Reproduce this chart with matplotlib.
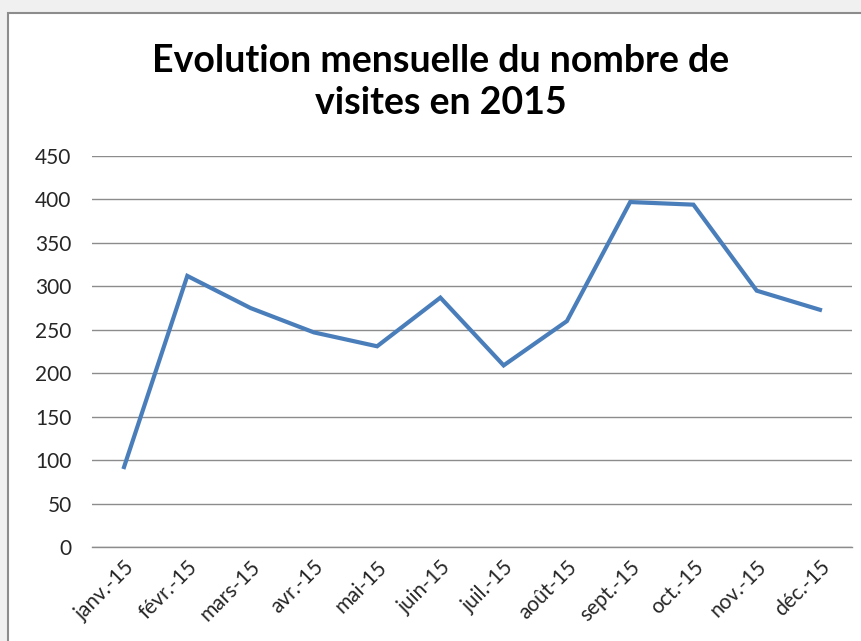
import matplotlib
matplotlib.use("Agg")
import matplotlib.pyplot as plt
from matplotlib.patches import Rectangle

months = ["janv.-15", "févr.-15", "mars-15", "avr.-15", "mai-15", "juin-15",
          "juil.-15", "août-15", "sept.-15", "oct.-15", "nov.-15", "déc.-15"]
visits = [92, 312, 275, 247, 231, 287, 209, 260, 397, 394, 295, 273]
yticks = [0, 50, 100, 150, 200, 250, 300, 350, 400, 450]
title = "Evolution mensuelle du nombre de\nvisites en 2015"

plt.rcParams['font.family'] = ['Lato', 'DejaVu Sans']

W, H = 862, 641
fig = plt.figure(figsize=(W / 100, H / 100), dpi=100, facecolor="#F0F0F0")
# white chart area with gray border
fig.patches.append(Rectangle((8 / W, -0.1), 1.2, 1.1 - 13 / H, transform=fig.transFigure,
                             facecolor="white", edgecolor="#8C8C8C", linewidth=1.5, zorder=-5))

left, right = 92.4 / W, 851.6 / W
bottom, top = 1 - 547 / H, 1 - 156 / H
ax = fig.add_axes([left, bottom, right - left, top - bottom], zorder=2)
ax.set_facecolor("none")

x = list(range(len(months)))
ax.plot(x, visits, color="#4A7EBB", linewidth=3.0, solid_joinstyle="miter", zorder=3)

ax.set_xlim(-0.5, len(months) - 0.5)
ax.set_ylim(0, 450)
ax.set_yticks(yticks)
ax.set_yticklabels([str(v) for v in yticks], fontsize=15, color="#262626")
ax.set_xticks(x)
ax.set_xticklabels(months, rotation=45, ha="right", va="top", rotation_mode="anchor",
                   fontsize=15, color="#262626")
ax.tick_params(axis="both", length=0)
ax.tick_params(axis="y", pad=15)
ax.tick_params(axis="x", pad=7)
ax.grid(axis="y", color="#8C8C8C", linewidth=1.0)
ax.set_axisbelow(True)
for s in ["left", "right", "top"]:
    ax.spines[s].set_visible(False)
ax.spines["bottom"].set_color("#8C8C8C")
ax.spines["bottom"].set_linewidth(1.0)

fig.text(441 / W, 1 - 82 / H, title, ha="center", va="center", fontsize=27,
         fontweight="bold", color="black", linespacing=1.3, zorder=3)

fig.savefig("out.png", dpi=100, facecolor=fig.get_facecolor())
